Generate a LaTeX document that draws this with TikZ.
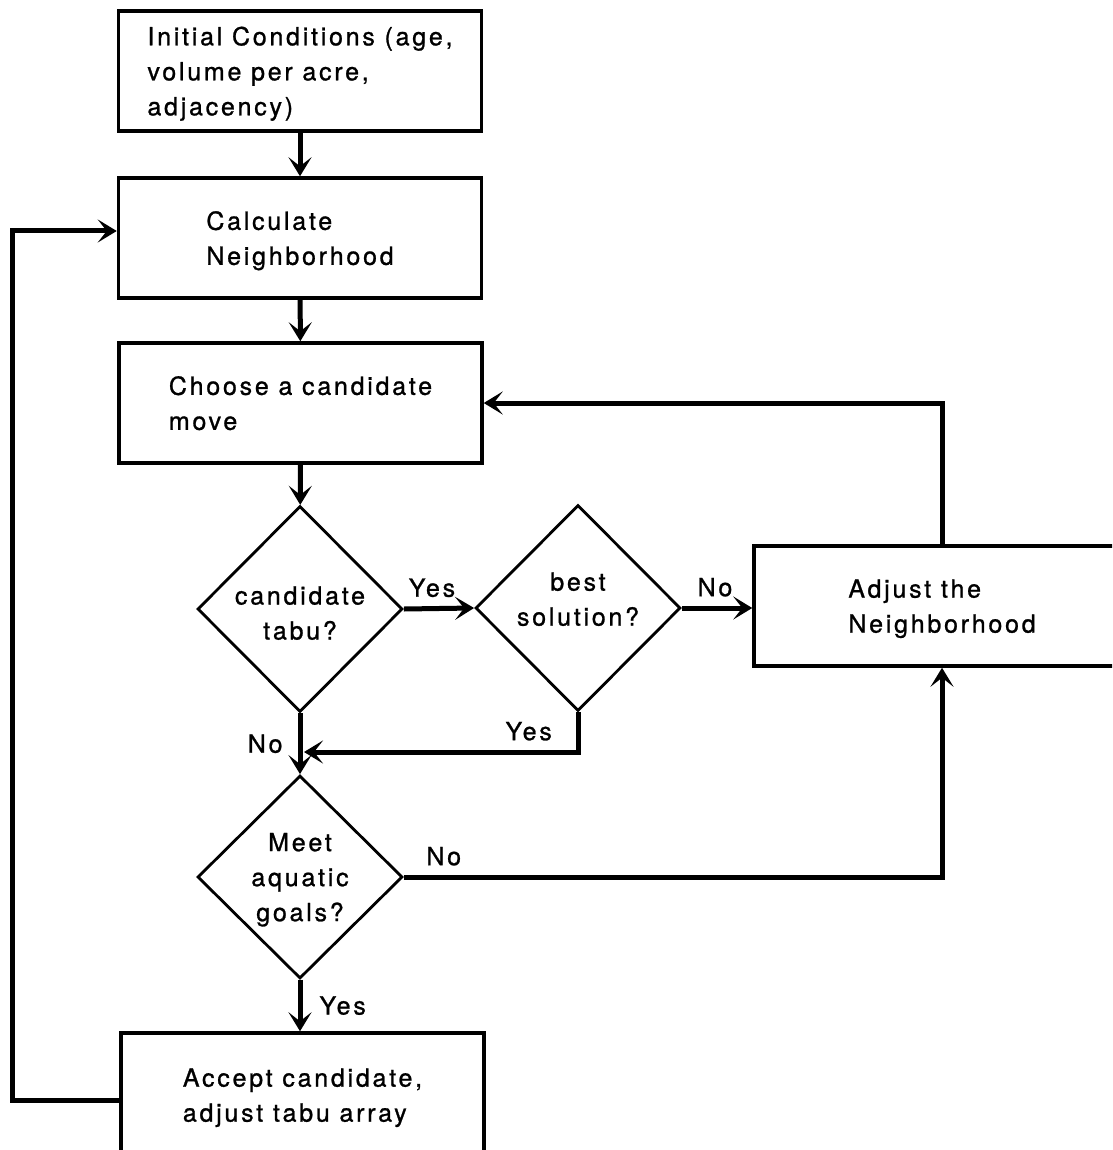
\documentclass[tikz,border=0pt]{standalone}
\usepackage{fontspec}
\setmainfont[LetterSpace=11,FakeBold=1]{TeX Gyre Heros}
\usetikzlibrary{shapes.geometric,arrows.meta}
\newcommand\flowfont{\fontsize{25}{35}\selectfont}

\begin{document}
\begin{tikzpicture}[x=1pt,y=-1pt,
  box/.style={draw,line width=3.5pt,minimum width=363pt,minimum height=120pt,
    inner sep=0pt,align=left,font=\flowfont,text depth=0pt},
  dia/.style={draw,diamond,line width=2.8pt,minimum width=205pt,minimum height=206pt,
    inner sep=0pt,align=center,font=\flowfont,text depth=0pt},
  conn/.style={line width=5pt,-{Stealth[length=19pt,width=23pt,inset=9pt]}},
  lab/.style={font=\flowfont,inner sep=2pt}]
\useasboundingbox (0,0) rectangle (1112,1150);
\fill[white] (0,0) rectangle (1112,1150);
\clip (0,0) rectangle (1112,1150);

% process boxes
\node[box] (init)   at (300,71)    {Initial Conditions (age,\\volume per acre,\\adjacency)};
\node[box] (calc)   at (300,238)   {Calculate\\Neighborhood};
\node[box] (choose) at (300.5,403) {Choose a candidate\\move};
\node[box,minimum width=376pt] (adjust) at (942,606) {Adjust the\\Neighborhood};
\node[box,minimum height=124pt] (accept) at (302.5,1095) {Accept candidate,\\adjust tabu array};

% decisions
\node[dia,text height=61pt] (tabu) at (300,609) {candidate\\tabu?};
\node[dia,text depth=18pt] (best) at (578,608) {best\\solution?};
\node[dia,minimum height=203pt] (meet) at (300,877) {Meet\\aquatic\\goals?};

\coordinate (join) at (304,752);

% connectors
\draw[conn] (init) -- (calc);
\draw[conn] (calc) -- (choose);
\draw[conn] (choose) -- (tabu);
\draw[conn] (tabu.east) -- node[lab,above=7pt,pos=0.4] {Yes} (best.west);
\draw[conn] (best.east) -- node[lab,above=7pt,pos=0.47] {No} (best.east -| adjust.west);
\draw[conn] (best.south) |- node[lab,above=7pt,pos=0.59] {Yes} (join);
\draw[conn] (tabu) -- node[lab,left=13pt] {No} (meet);
\draw[conn] (meet.east) -| node[lab,above=7pt,pos=0.037] {No} (adjust.south);
\draw[conn] (adjust.north) |- (choose.east);
\draw[conn] (meet.south) -- node[lab,right=15pt] {Yes} (meet.south |- accept.north);
\draw[conn] ([yshift=-5pt]accept.west) -- ++(-107,0) |- ([yshift=7pt]calc.west);
\end{tikzpicture}
\end{document}
